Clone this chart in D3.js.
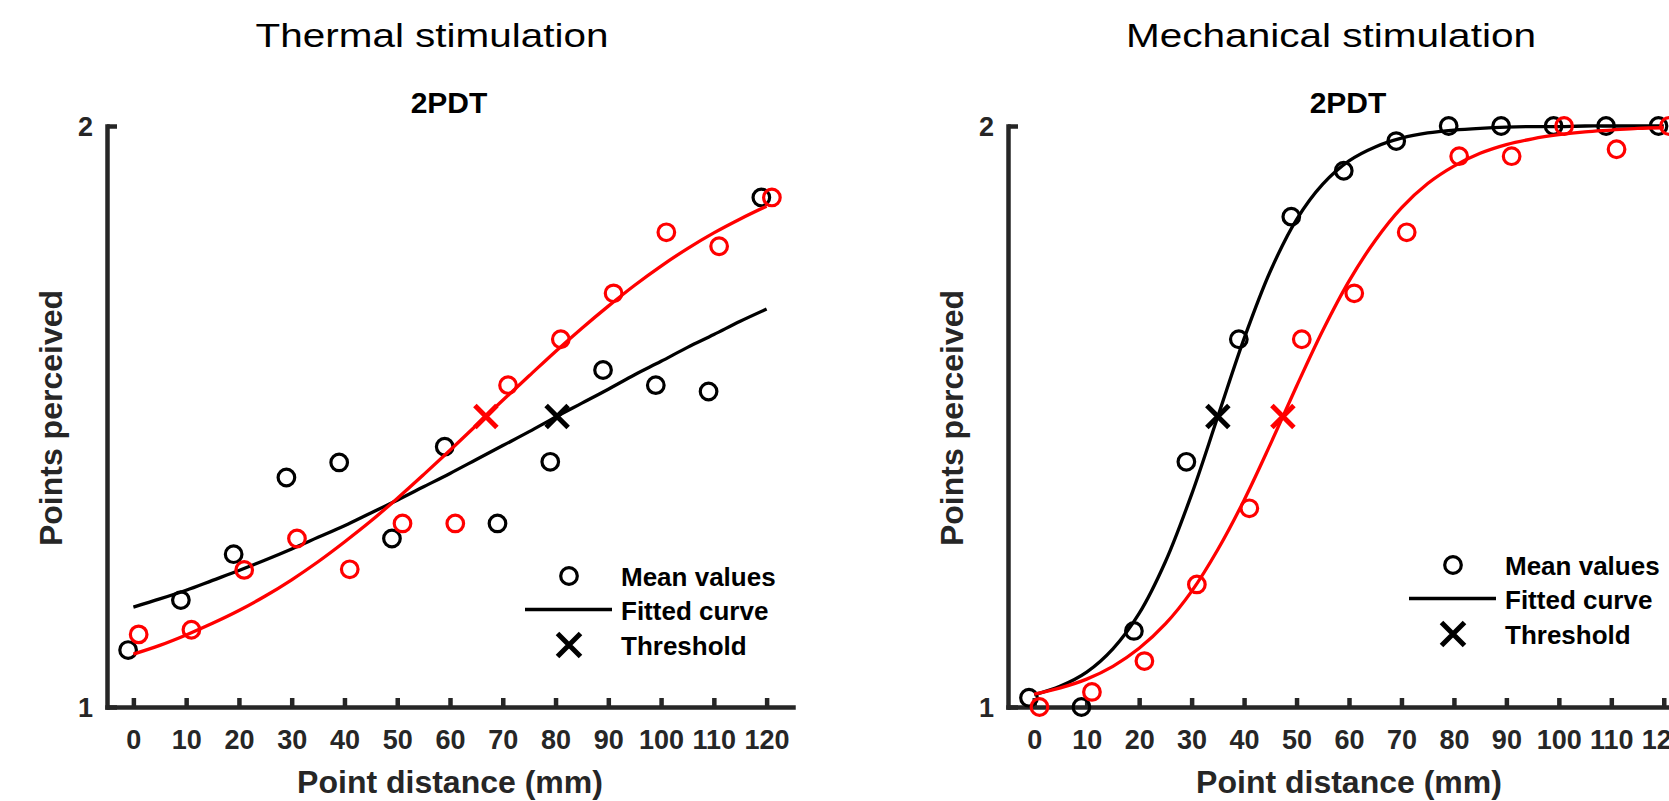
<!DOCTYPE html>
<html lang="en">
<head>
<meta charset="UTF-8">
<title>2PDT - thermal vs mechanical</title>
<script src="https://d3js.org/d3.v7.min.js"></script>
<style>
    body { margin: 0; background: #fff; }
    svg { display: block; font-family: "Liberation Sans", Arial, Helvetica, sans-serif; }
    .axis path, .axis line { stroke: #262626; stroke-width: 4.5; }
    .axis text { fill: #262626; font-size: 27px; font-weight: bold; }
</style>
</head>
<body>
<svg width="1669" height="801"></svg>
<script>
// point distances (mm) and axis ticks
const xTicks = [0, 10, 20, 30, 40, 50, 60, 70, 80, 90, 100, 110, 120];
const yTicks = [1, 2];
const distances = [0, 10, 20, 30, 40, 50, 60, 70, 80, 90, 100, 110, 120];

// mean values (black and red groups)
const thermalBlack = [1.098, 1.184, 1.263, 1.395, 1.421, 1.290, 1.448, 1.316, 1.422, 1.580, 1.554, 1.543, 1.877];
const thermalRed   = [1.125, 1.133, 1.236, 1.290, 1.237, 1.316, 1.316, 1.554, 1.633, 1.712, 1.817, 1.793, 1.877];
const mechBlack    = [1.016, 1.000, 1.131, 1.422, 1.633, 1.844, 1.923, 1.974, 2.000, 2.000, 2.000, 2.000, 2.000];
const mechRed      = [1.000, 1.026, 1.079, 1.211, 1.342, 1.633, 1.712, 1.817, 1.948, 1.948, 2.000, 1.960, 2.000];

// fitted curves, read every 5 mm
const curveX = [0, 5, 10, 15, 20, 25, 30, 35, 40, 45, 50, 55, 60, 65, 70, 75, 80, 85, 90, 95, 100, 105, 110, 115, 120];
const thermalBlackFit = [1.172, 1.186, 1.201, 1.218, 1.235, 1.253, 1.272, 1.292, 1.312, 1.334, 1.356, 1.379, 1.402, 1.426, 1.450, 1.474, 1.499, 1.523, 1.547, 1.572, 1.595, 1.619, 1.641, 1.664, 1.685];
const thermalRedFit   = [1.091, 1.106, 1.124, 1.144, 1.166, 1.191, 1.219, 1.250, 1.284, 1.320, 1.359, 1.400, 1.442, 1.485, 1.528, 1.570, 1.612, 1.652, 1.690, 1.726, 1.759, 1.789, 1.816, 1.840, 1.862];
const mechBlackFit    = [1.021, 1.036, 1.060, 1.100, 1.161, 1.250, 1.366, 1.500, 1.634, 1.750, 1.839, 1.900, 1.940, 1.964, 1.979, 1.988, 1.993, 1.996, 1.998, 1.999, 1.999, 2.000, 2.000, 2.000, 2.000];
const mechRedFit      = [1.022, 1.033, 1.048, 1.070, 1.101, 1.143, 1.199, 1.271, 1.356, 1.452, 1.552, 1.648, 1.733, 1.803, 1.859, 1.901, 1.931, 1.953, 1.968, 1.978, 1.985, 1.990, 1.993, 1.996, 1.997];

// thresholds (distance at 1.5 points)
const thermalThresholds = [80.3, 66.8];   // black, red
const mechThresholds    = [35.0, 47.4];
const thresholdLevel = 1.5;

const legendLabels = ["Mean values", "Fitted curve", "Threshold"];

const svg = d3.select("svg");
const RED = "#ff0000";

const panels = [
    { title: "Thermal stimulation", titleLen: 353, left: 107, right: 793,
      black: thermalBlack, red: thermalRed, blackFit: thermalBlackFit, redFit: thermalRedFit,
      thr: thermalThresholds, legend: { x: 569, y: 576 } },
    { title: "Mechanical stimulation", titleLen: 410, left: 1008, right: 1690,
      black: mechBlack, red: mechRed, blackFit: mechBlackFit, redFit: mechRedFit,
      thr: mechThresholds, legend: { x: 1453, y: 565 } }
];

const plotTop = 126, plotBottom = 707;

// draw a cross marker
function cross(g, cx, cy, color, h) {
    g.append("path")
        .attr("d", `M${cx - h},${cy - h}L${cx + h},${cy + h}M${cx - h},${cy + h}L${cx + h},${cy - h}`)
        .attr("stroke", color)
        .attr("stroke-width", 5)
        .attr("fill", "none");
}

panels.forEach(p => {
    const x = d3.scaleLinear().domain([-5, 125]).range([p.left, p.right]);
    const y = d3.scaleLinear().domain([1, 2]).range([plotBottom, plotTop]);
    const mid = (p.left + p.right) / 2;

    // axes
    svg.append("g").attr("class", "axis")
        .attr("transform", `translate(0,${plotBottom})`)
        .call(d3.axisBottom(x).tickValues(xTicks).tickSizeInner(-9).tickSizeOuter(0).tickPadding(23))
        .call(g => g.select(".domain").attr("stroke-linecap", "square"));

    svg.append("g").attr("class", "axis")
        .attr("transform", `translate(${p.left},0)`)
        .call(d3.axisLeft(y).tickValues(yTicks).tickFormat(d3.format("d"))
            .tickSizeInner(-10).tickSizeOuter(0).tickPadding(14))
        .call(g => g.select(".domain").attr("stroke-linecap", "square"))
        .call(g => g.selectAll(".tick text").attr("dy", "0.36em"));

    // titles and labels
    svg.append("text")
        .attr("x", mid - 18).attr("y", 47)
        .attr("text-anchor", "middle")
        .attr("font-size", 34)
        .attr("textLength", p.titleLen)
        .attr("lengthAdjust", "spacingAndGlyphs")
        .attr("fill", "#000")
        .text(p.title);

    svg.append("text")
        .attr("x", mid - 1).attr("y", 113)
        .attr("text-anchor", "middle")
        .attr("font-size", 30).attr("font-weight", "bold")
        .attr("fill", "#000")
        .text("2PDT");

    svg.append("text")
        .attr("x", mid).attr("y", 793)
        .attr("text-anchor", "middle")
        .attr("font-size", 32).attr("font-weight", "bold")
        .attr("fill", "#262626")
        .text("Point distance (mm)");

    svg.append("text")
        .attr("transform", `translate(${p.left - 45},418) rotate(-90)`)
        .attr("text-anchor", "middle")
        .attr("font-size", 32).attr("font-weight", "bold")
        .attr("fill", "#262626")
        .text("Points perceived");

    const line = d3.line()
        .x((d, i) => x(curveX[i]))
        .y(d => y(d))
        .curve(d3.curveCatmullRom.alpha(0.5));

    const series = [
        { means: p.black, fit: p.blackFit, thr: p.thr[0], color: "#000", off: -1 },
        { means: p.red,   fit: p.redFit,   thr: p.thr[1], color: RED,    off: 1 }
    ];

    series.forEach(s => {
        const g = svg.append("g");
        g.selectAll("circle")
            .data(s.means)
            .join("circle")
            .attr("cx", (d, i) => x(distances[i] + s.off))
            .attr("cy", d => y(d))
            .attr("r", 8.3)
            .attr("fill", "none")
            .attr("stroke", s.color)
            .attr("stroke-width", 3.2);

        g.append("path")
            .datum(s.fit)
            .attr("d", line)
            .attr("fill", "none")
            .attr("stroke", s.color)
            .attr("stroke-width", 3.3);

        cross(g, x(s.thr), y(thresholdLevel), s.color, 11);
    });

    // legend
    const lg = svg.append("g").attr("transform", `translate(${p.legend.x},${p.legend.y})`);
    const rowGap = 34.5;
    lg.append("circle").attr("cx", 0).attr("cy", 0).attr("r", 8.3)
        .attr("fill", "none").attr("stroke", "#000").attr("stroke-width", 3.2);
    lg.append("line").attr("x1", -44).attr("x2", 43).attr("y1", rowGap - 1).attr("y2", rowGap - 1)
        .attr("stroke", "#000").attr("stroke-width", 3.3);
    cross(lg, 0, rowGap * 2, "#000", 11.5);
    lg.selectAll("text.leg")
        .data(legendLabels)
        .join("text")
        .attr("class", "leg")
        .attr("x", 52)
        .attr("y", (d, i) => i * rowGap + 9.5)
        .attr("font-size", 26).attr("font-weight", "bold")
        .attr("fill", "#000")
        .text(d => d);
});
</script>
</body>
</html>
